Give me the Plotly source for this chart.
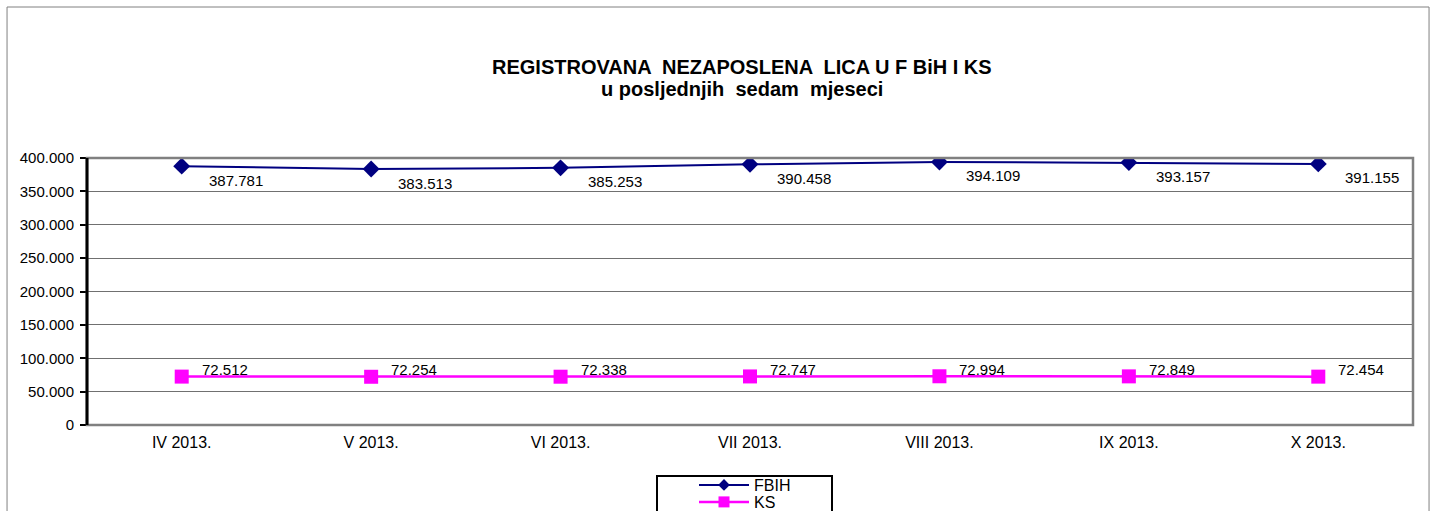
import plotly.graph_objects as go

categories = ["IV 2013.", "V 2013.", "VI 2013.", "VII 2013.", "VIII 2013.", "IX 2013.", "X 2013."]
fbih = [387781, 383513, 385253, 390458, 394109, 393157, 391155]
ks = [72512, 72254, 72338, 72747, 72994, 72849, 72454]
y_ticks = [0, 50000, 100000, 150000, 200000, 250000, 300000, 350000, 400000]
title_lines = ["REGISTROVANA  NEZAPOSLENA  LICA U F BiH I KS", "u posljednjih  sedam  mjeseci"]

FONT = "Arial, 'Liberation Sans', sans-serif"
FBIH_COLOR = "#000080"
KS_COLOR = "#FF00FF"

def fmt(v):
    return f"{v:,}".replace(",", ".")

fig = go.Figure()
fig.add_trace(go.Scatter(
    x=categories, y=fbih, name="FBIH", mode="lines+markers", showlegend=False,
    line=dict(color=FBIH_COLOR, width=2),
    marker=dict(symbol="diamond", size=13, color=FBIH_COLOR),
))
fig.add_trace(go.Scatter(
    x=categories, y=ks, name="KS", mode="lines+markers", showlegend=False,
    line=dict(color=KS_COLOR, width=2.5),
    marker=dict(symbol="square", size=14, color=KS_COLOR),
))
# legend entries (smaller markers, as in the reference legend)
fig.add_trace(go.Scatter(
    x=[None], y=[None], name="FBIH", mode="lines+markers", legend="legend",
    line=dict(color=FBIH_COLOR, width=2),
    marker=dict(symbol="diamond", size=9, color=FBIH_COLOR),
))
fig.add_trace(go.Scatter(
    x=[None], y=[None], name="KS", mode="lines+markers", legend="legend2",
    line=dict(color=KS_COLOR, width=2.5),
    marker=dict(symbol="square", size=11, color=KS_COLOR),
))

annotations = []
for c, v in zip(categories, fbih):
    annotations.append(dict(x=c, y=v, xref="x", yref="y", text=fmt(v), showarrow=False,
                            xshift=54, yshift=-14, font=dict(family=FONT, size=15, color="black")))
for c, v in zip(categories, ks):
    annotations.append(dict(x=c, y=v, xref="x", yref="y", text=fmt(v), showarrow=False,
                            xshift=43, yshift=7, font=dict(family=FONT, size=15, color="black")))

annotations.append(dict(
    text="<b>" + title_lines[0] + "</b>",
    xref="paper", yref="paper", x=0.494, y=(425 - 67) / 267, xanchor="center", yanchor="middle",
    showarrow=False, font=dict(family=FONT, size=20, color="black")))
annotations.append(dict(
    text="<b>" + title_lines[1] + "</b>",
    xref="paper", yref="paper", x=0.494, y=(425 - 89) / 267, xanchor="center", yanchor="middle",
    showarrow=False, font=dict(family=FONT, size=20, color="black")))

legend_common = dict(
    xanchor="left", yanchor="top", borderwidth=0, bgcolor="rgba(0,0,0,0)",
    font=dict(family=FONT, size=16, color="black"), itemwidth=50,
)

fig.update_layout(
    autosize=False,
    width=1436, height=511,
    margin=dict(l=87, r=23, t=158, b=86, pad=0, autoexpand=False),
    paper_bgcolor="white", plot_bgcolor="white",
    separators=",.",
    showlegend=True,
    legend=dict(x=(694 - 87) / 1326, y=-(468 - 425) / 267, **legend_common),
    legend2=dict(x=(694 - 87) / 1326, y=-(485 - 425) / 267, **legend_common),
    annotations=annotations,
    shapes=[
        dict(type="rect", xref="paper", yref="paper",
             x0=-0.0603, x1=1.0121, y0=-0.5, y1=1.5655,
             line=dict(color="#808080", width=1), fillcolor="rgba(0,0,0,0)", layer="below"),
        dict(type="rect", xref="paper", yref="paper", x0=0, x1=1, y0=0, y1=1,
             line=dict(color="#808080", width=2.5), fillcolor="rgba(0,0,0,0)", layer="above"),
        dict(type="line", xref="paper", yref="paper", x0=0, x1=0, y0=0, y1=1,
             line=dict(color="black", width=3), layer="above"),
        # legend box
        dict(type="rect", xref="paper", yref="paper",
             x0=(657 - 87) / 1326, x1=(832 - 87) / 1326, y0=-0.45, y1=(425 - 476) / 267,
             line=dict(color="black", width=2), fillcolor="rgba(0,0,0,0)", layer="below"),
    ],
)

fig.update_xaxes(
    type="category", range=[-0.5, 6.5], showgrid=False, zeroline=False,
    showline=False, ticks="", ticklabelstandoff=6,
    tickfont=dict(family=FONT, size=16, color="black"),
)
fig.update_yaxes(
    range=[0, 400000], tickvals=y_ticks, tickformat=",",
    showgrid=True, gridcolor="#707070", gridwidth=1, zeroline=False,
    showline=False, ticks="outside", ticklen=6, tickwidth=2, tickcolor="black",
    ticklabelstandoff=3,
    tickfont=dict(family=FONT, size=15, color="black"),
)

fig.write_html("out.html", config={"responsive": False, "displayModeBar": False},
               post_script="document.body.style.margin='0';document.body.style.overflow='hidden';")
